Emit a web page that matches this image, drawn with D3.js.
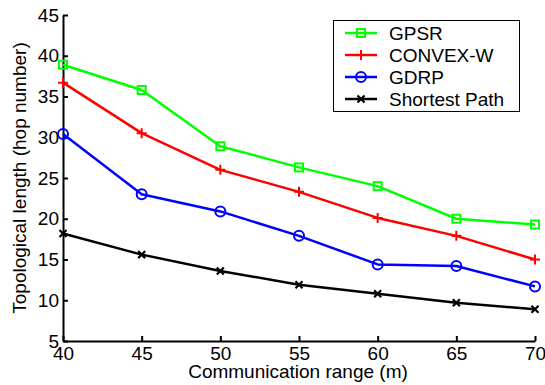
<!DOCTYPE html>
<html>
<head>
<meta charset="utf-8">
<script src="https://cdn.jsdelivr.net/npm/d3@7"></script>
<style>
  body { margin: 0; background: #fff; }
  text { font-family: Arial, "Liberation Sans", Helvetica, sans-serif; }
</style>
</head>
<body>
<div id="chart"></div>
<script>
// communication range (m)
const ranges = [40, 45, 50, 55, 60, 65, 70];
// hop number per method
const gpsr = [38.9, 35.8, 28.9, 26.3, 24.0, 20.0, 19.3];
const convexW = [36.7, 30.5, 26.0, 23.3, 20.1, 17.9, 15.0];
const gdrp = [30.4, 23.0, 20.9, 17.9, 14.4, 14.2, 11.7];
const shortest = [18.2, 15.6, 13.6, 11.9, 10.8, 9.7, 8.9];
const seriesNames = ["GPSR", "CONVEX-W", "GDRP", "Shortest Path"];
const xTicks = [40, 45, 50, 55, 60, 65, 70];
const yTicks = [5, 10, 15, 20, 25, 30, 35, 40, 45];

const series = [
  { name: seriesNames[0], values: gpsr, color: "#00ff00", marker: "square" },
  { name: seriesNames[1], values: convexW, color: "#ff0000", marker: "plus" },
  { name: seriesNames[2], values: gdrp, color: "#0000ff", marker: "circle" },
  { name: seriesNames[3], values: shortest, color: "#000000", marker: "cross" }
];

const W = 545, H = 385;
const fontSize = 19;
const svg = d3.select("#chart").append("svg")
  .attr("width", W).attr("height", H);

const x = d3.scaleLinear().domain([40, 70]).range([63, 535]);
const y = d3.scaleLinear().domain([5, 45]).range([341, 15]);

// axes, ticks pointing inward like matlab
const xAxis = svg.append("g").attr("transform", `translate(0,${y(5)})`)
  .call(d3.axisBottom(x).tickValues(xTicks).tickSizeInner(-5).tickSizeOuter(0).tickPadding(6));
const yAxis = svg.append("g").attr("transform", `translate(${x(40)},0)`)
  .call(d3.axisLeft(y).tickValues(yTicks).tickSizeInner(-5).tickSizeOuter(0).tickPadding(4));

[xAxis, yAxis].forEach(g => {
  g.select(".domain").attr("stroke", "#000").attr("stroke-width", 2);
  g.selectAll(".tick line").attr("stroke", "#000").attr("stroke-width", 2);
  g.selectAll(".tick text").attr("font-size", fontSize).attr("fill", "#000")
    .style("font-family", "Arial, 'Liberation Sans', sans-serif");
});

// axis titles
svg.append("text")
  .attr("x", 298).attr("y", 378)
  .attr("text-anchor", "middle")
  .attr("font-size", fontSize)
  .text("Communication range (m)");
svg.append("text")
  .attr("transform", `translate(26,178) rotate(-90)`)
  .attr("text-anchor", "middle")
  .attr("font-size", fontSize)
  .text("Topological length (hop number)");

// marker drawing
const drawMarker = (g, type, color, cx, cy) => {
  if (type === "square") {
    g.append("rect").attr("x", cx - 4).attr("y", cy - 4)
      .attr("width", 8).attr("height", 8)
      .attr("fill", "none").attr("stroke", color).attr("stroke-width", 2);
  } else if (type === "plus") {
    g.append("path").attr("d", `M${cx - 5},${cy}H${cx + 5}M${cx},${cy - 5}V${cy + 5}`)
      .attr("stroke", color).attr("stroke-width", 2);
  } else if (type === "circle") {
    g.append("circle").attr("cx", cx).attr("cy", cy).attr("r", 5)
      .attr("fill", "none").attr("stroke", color).attr("stroke-width", 2);
  } else {
    g.append("path").attr("d", `M${cx - 3.5},${cy - 3.5}L${cx + 3.5},${cy + 3.5}M${cx - 3.5},${cy + 3.5}L${cx + 3.5},${cy - 3.5}`)
      .attr("stroke", color).attr("stroke-width", 2.2);
  }
};

const line = d3.line().x(d => x(d[0])).y(d => y(d[1]));

series.forEach(s => {
  const pts = ranges.map((r, i) => [r, s.values[i]]);
  const g = svg.append("g");
  g.append("path").datum(pts)
    .attr("d", line)
    .attr("fill", "none")
    .attr("stroke", s.color)
    .attr("stroke-width", 2.5)
    .attr("stroke-linejoin", "round");
  pts.forEach(p => drawMarker(g, s.marker, s.color, x(p[0]), y(p[1])));
});

// legend
const legend = svg.append("g");
legend.append("rect")
  .attr("x", 333.5).attr("y", 20.5).attr("width", 186).attr("height", 91)
  .attr("fill", "#fff").attr("stroke", "#000").attr("stroke-width", 1);
series.forEach((s, i) => {
  const ly = 33 + i * 22;
  legend.append("line")
    .attr("x1", 345).attr("x2", 377).attr("y1", ly).attr("y2", ly)
    .attr("stroke", s.color).attr("stroke-width", 2.5);
  drawMarker(legend, s.marker, s.color, 361, ly);
  legend.append("text")
    .attr("x", 389).attr("y", ly).attr("dy", "0.35em")
    .attr("font-size", fontSize)
    .text(s.name);
});
</script>
</body>
</html>
